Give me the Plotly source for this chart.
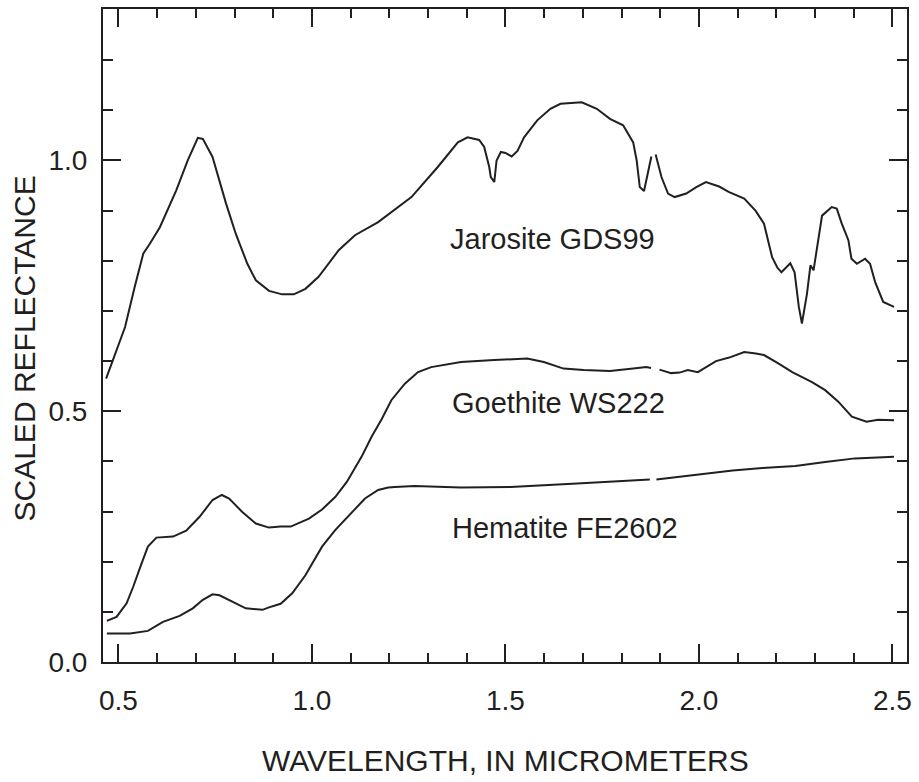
import plotly.graph_objects as go

# Wavelength (micrometers) and scaled reflectance
jar_w = [0.468, 0.517, 0.542, 0.564, 0.581, 0.607, 0.649, 0.679, 0.705, 0.718, 0.743, 0.778,
         0.803, 0.833, 0.855, 0.889, 0.923, 0.953, 0.983, 1.017, 1.069, 1.111, 1.171, 1.257,
         1.325, 1.377, 1.402, 1.432, 1.445, 1.458, 1.462, 1.471, 1.477, 1.488, 1.500, 1.516,
         1.531, 1.548, 1.582, 1.616, 1.642, 1.697, 1.736, 1.770, 1.804, 1.830, 1.839, 1.847,
         1.858, 1.877, 1.882, 1.888, 1.903, 1.920, 1.937, 1.967, 1.993, 2.018, 2.052, 2.078,
         2.117, 2.146, 2.168, 2.189, 2.202, 2.213, 2.236, 2.247, 2.258, 2.266, 2.279, 2.288,
         2.296, 2.318, 2.343, 2.356, 2.369, 2.386, 2.394, 2.408, 2.429, 2.442, 2.455, 2.476, 2.504]
jar_r = [0.565, 0.668, 0.748, 0.814, 0.834, 0.867, 0.940, 1.000, 1.045, 1.043, 1.007, 0.914,
         0.854, 0.794, 0.761, 0.740, 0.733, 0.733, 0.744, 0.768, 0.821, 0.851, 0.877, 0.927,
         0.987, 1.036, 1.046, 1.041, 1.027, 0.987, 0.967, 0.957, 1.000, 1.017, 1.015, 1.008,
         1.019, 1.046, 1.080, 1.103, 1.113, 1.116, 1.103, 1.083, 1.070, 1.036, 1.000, 0.947,
         0.939, 1.008, None, 1.012, 0.967, 0.934, 0.927, 0.934, 0.947, 0.957, 0.948, 0.937,
         0.924, 0.900, 0.874, 0.807, 0.787, 0.777, 0.795, 0.777, 0.708, 0.675, 0.734, 0.791,
         0.781, 0.890, 0.907, 0.904, 0.874, 0.841, 0.804, 0.794, 0.804, 0.794, 0.758, 0.718, 0.708]

goe_w = [0.470, 0.495, 0.521, 0.538, 0.560, 0.576, 0.598, 0.641, 0.675, 0.709, 0.743, 0.767,
         0.786, 0.820, 0.855, 0.889, 0.919, 0.945, 0.992, 1.026, 1.060, 1.090, 1.128, 1.154,
         1.180, 1.205, 1.240, 1.274, 1.308, 1.385, 1.471, 1.556, 1.599, 1.650, 1.702, 1.770,
         1.830, 1.864, 1.876, 1.882, 1.898, 1.928, 1.950, 1.971, 1.997, 2.044, 2.078, 2.117,
         2.147, 2.168, 2.206, 2.241, 2.292, 2.326, 2.360, 2.395, 2.433, 2.463, 2.504]
goe_r = [0.082, 0.090, 0.117, 0.150, 0.197, 0.230, 0.248, 0.250, 0.262, 0.289, 0.323, 0.333,
         0.326, 0.299, 0.276, 0.268, 0.270, 0.270, 0.286, 0.304, 0.329, 0.359, 0.409, 0.449,
         0.484, 0.522, 0.555, 0.578, 0.588, 0.598, 0.602, 0.605, 0.598, 0.585, 0.582, 0.580,
         0.585, 0.588, 0.586, None, 0.583, 0.576, 0.577, 0.582, 0.578, 0.600, 0.607, 0.618,
         0.615, 0.612, 0.595, 0.578, 0.558, 0.542, 0.519, 0.489, 0.479, 0.483, 0.482]

hem_w = [0.470, 0.530, 0.576, 0.615, 0.658, 0.692, 0.718, 0.743, 0.761, 0.795, 0.829, 0.872,
         0.889, 0.919, 0.949, 0.983, 1.026, 1.060, 1.103, 1.137, 1.171, 1.197, 1.214, 1.265,
         1.385, 1.513, 1.685, 1.813, 1.873, 1.880, 1.890, 1.967, 2.087, 2.164, 2.249, 2.326,
         2.403, 2.504]
hem_r = [0.057, 0.057, 0.062, 0.080, 0.092, 0.107, 0.124, 0.135, 0.133, 0.120, 0.107, 0.104,
         0.109, 0.116, 0.137, 0.173, 0.230, 0.263, 0.299, 0.326, 0.343, 0.348, 0.349, 0.351,
         0.348, 0.349, 0.356, 0.361, 0.364, None, 0.364, 0.371, 0.382, 0.387, 0.391, 0.399,
         0.406, 0.409]

labels = ["Jarosite GDS99", "Goethite WS222", "Hematite FE2602"]
label_x = [1.351, 1.356, 1.356]
label_y = [0.843, 0.516, 0.267]

INK = "#231f20"
FONT = "Liberation Sans, Arial, sans-serif"

fig = go.Figure()
for w, r in [(jar_w, jar_r), (goe_w, goe_r), (hem_w, hem_r)]:
    fig.add_trace(go.Scatter(x=w, y=r, mode="lines", line=dict(color=INK, width=2),
                             connectgaps=False, showlegend=False, hoverinfo="skip"))

for t, x, y in zip(labels, label_x, label_y):
    fig.add_annotation(x=x, y=y, text=t, showarrow=False, xanchor="left", yanchor="middle",
                       font=dict(family=FONT, size=29, color=INK))

fig.add_annotation(x=0.5, y=0, xref="paper", yref="paper", text="WAVELENGTH, IN MICROMETERS",
                   showarrow=False, xanchor="center", yanchor="middle", yshift=-98,
                   font=dict(family=FONT, size=30, color=INK))
fig.add_annotation(x=0, y=0.5, xref="paper", yref="paper", text="SCALED REFLECTANCE",
                   showarrow=False, xanchor="center", yanchor="middle", xshift=-79, yshift=-13,
                   textangle=-90, font=dict(family=FONT, size=30, color=INK))

axis_common = dict(showline=True, linecolor=INK, linewidth=2, mirror="ticks", ticks="inside",
                   tickcolor=INK, tickwidth=2, ticklen=18, showgrid=False, zeroline=False,
                   tickformat=".1f", tickfont=dict(family=FONT, size=28, color=INK))

fig.update_xaxes(range=[0.46, 2.5375], tick0=0.5, dtick=0.5,
                 minor=dict(dtick=0.1, ticks="inside", ticklen=9, tickwidth=2, tickcolor=INK,
                            showgrid=False),
                 ticklabelstandoff=12, **axis_common)
fig.update_yaxes(range=[0, 1.302], tick0=0, dtick=0.5,
                 minor=dict(dtick=0.1, ticks="inside", ticklen=10, tickwidth=2, tickcolor=INK,
                            showgrid=False),
                 ticklabelstandoff=8, **axis_common)

fig.update_layout(width=919, height=782, margin=dict(l=103, r=7, t=8, b=120),
                  paper_bgcolor="white", plot_bgcolor="white", font=dict(family=FONT, color=INK))

fig.write_html("out.html")
